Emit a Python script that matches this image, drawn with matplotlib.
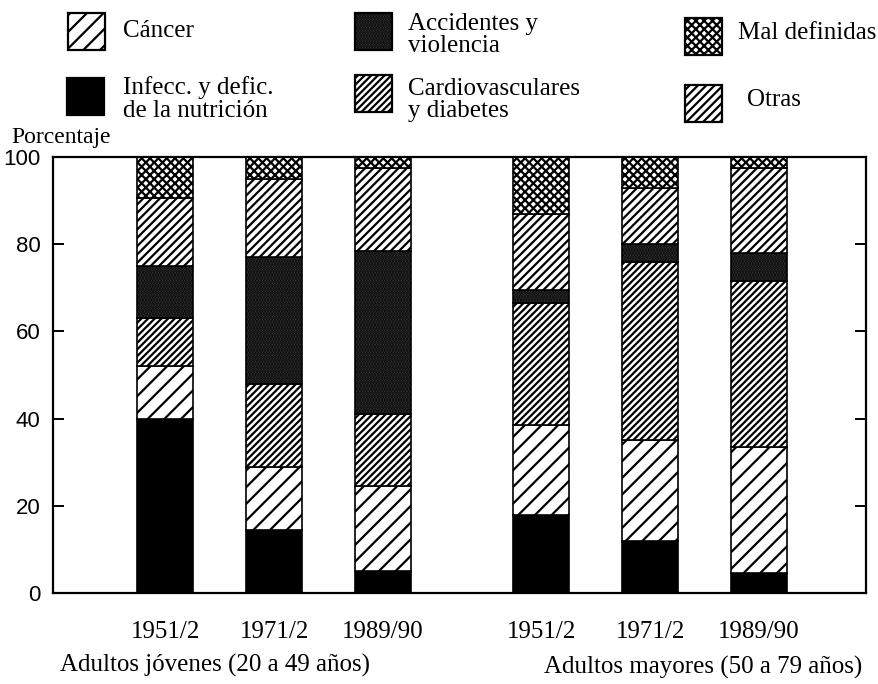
import matplotlib
matplotlib.use("Agg")
import matplotlib.pyplot as plt
from matplotlib.patches import Rectangle
import numpy as np

plt.rcParams['hatch.linewidth'] = 1.6

# ---------------- data ----------------
periods = ['1951/2', '1971/2', '1989/90', '1951/2', '1971/2', '1989/90']
groups = ['Adultos jóvenes (20 a 49 años)', 'Adultos mayores (50 a 79 años)']

infecc = [40.0, 14.5, 5.0, 18.0, 12.0, 4.5]
cancer = [12.0, 14.5, 19.5, 20.5, 23.0, 29.0]
cardio = [11.0, 19.0, 16.5, 28.0, 41.0, 38.0]
accid = [12.0, 29.0, 37.5, 3.0, 4.0, 6.5]
otras = [15.5, 18.0, 19.0, 17.5, 13.0, 19.5]
maldef = [9.5, 5.0, 2.5, 13.0, 7.0, 2.5]

yticks = [0, 20, 40, 60, 80, 100]

# ---------------- styles ----------------
styles = {
    'Infecc. y defic.\nde la nutrición': dict(facecolor='black', hatch=None),
    'Cáncer': dict(facecolor='white', hatch='//'),
    'Cardiovasculares\ny diabetes': dict(facecolor='white', hatch='/////'),
    'Accidentes y\nviolencia': dict(facecolor='#3c3c3c', hatch='......'),
    'Otras': dict(facecolor='white', hatch='////'),
    'Mal definidas': dict(facecolor='white', hatch='xxxx'),
}
series = [infecc, cancer, cardio, accid, otras, maldef]
names = list(styles.keys())

W, H = 879, 684
fig = plt.figure(figsize=(W / 100, H / 100), dpi=100)

ax = fig.add_axes([53 / W, (H - 593) / H, (866 - 53) / W, (593 - 157) / H])
x = np.array([0, 1, 2, 3.45, 4.45, 5.45])
bottom = np.zeros(len(x))
for name, vals in zip(names, series):
    st = styles[name]
    ax.bar(x, vals, width=0.51, bottom=bottom, facecolor=st['facecolor'],
           hatch=st['hatch'], edgecolor='black', linewidth=1.2, zorder=2)
    bottom += np.array(vals)

ax.set_xlim(-1.028, 6.43)
ax.set_ylim(0, 100)
for s in ax.spines.values():
    s.set_linewidth(1.6)
ax.set_yticks(yticks)
ax.set_yticklabels([str(v) for v in yticks], fontfamily='Liberation Sans', fontsize=16)
ax.tick_params(axis='y', direction='in', length=8, width=1.4, pad=9, right=True)
ax.set_xticks(x)
ax.set_xticklabels(periods, fontfamily='Liberation Serif', fontsize=18)
ax.tick_params(axis='x', length=0, pad=20)

# group labels
fig.text(215 / W, 1 - 665 / H, groups[0], ha='center', va='center',
         fontfamily='Liberation Serif', fontsize=18)
fig.text(703 / W, 1 - 667 / H, groups[1], ha='center', va='center',
         fontfamily='Liberation Serif', fontsize=18)

# y-axis title
fig.text(11 / W, 1 - 137 / H, 'Porcentaje', ha='left', va='center',
         fontfamily='Liberation Serif', fontsize=17)

# ---------------- legend (overlay in pixel coords) ----------------
lax = fig.add_axes([0, 0, 1, 1], zorder=5)
lax.set_xlim(0, W)
lax.set_ylim(H, 0)
lax.axis('off')
leg_items = [
    ('Cáncer', 68, 13, 123, 31),
    ('Infecc. y defic.\nde la nutrición', 67, 78, 123, 99),
    ('Accidentes y\nviolencia', 355, 13, 408, 35),
    ('Cardiovasculares\ny diabetes', 355, 75, 408, 100),
    ('Mal definidas', 685, 18, 738, 33),
    ('Otras', 685, 85, 747, 100),
]
for name, px, py, tx, ty in leg_items:
    st = styles[name]
    lax.add_patch(Rectangle((px, py), 37, 37, facecolor=st['facecolor'],
                            hatch=st['hatch'], edgecolor='black', linewidth=1.6))
    lax.text(tx, ty, name, ha='left', va='center', fontfamily='Liberation Serif',
             fontsize=18, linespacing=1.05)

fig.savefig('out.png', dpi=100)
